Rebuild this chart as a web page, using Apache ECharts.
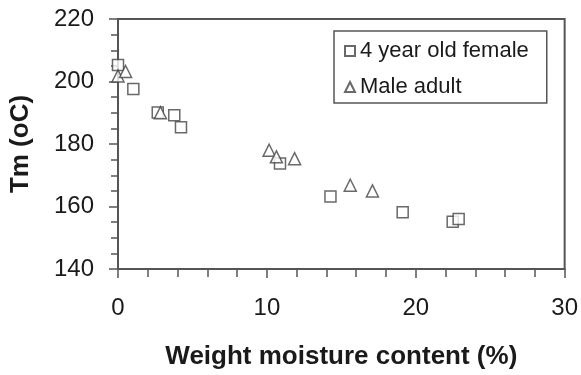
<!DOCTYPE html>
<html>
<head>
<meta charset="utf-8">
<script src="https://cdn.jsdelivr.net/npm/echarts@6/dist/echarts.min.js"></script>
<style>
  html, body { margin: 0; padding: 0; background: #fff; }
  #chart { width: 581px; height: 375px; }
</style>
</head>
<body>
<div id="chart"></div>
<script>
// data
var femaleX = [0, 1.03, 2.67, 3.78, 4.23, 10.88, 14.27, 19.12, 22.48, 22.88];
var femaleY = [205.3, 197.6, 190.1, 189.2, 185.4, 173.8, 163.2, 158.2, 155.1, 156.0];
var maleX = [0, 0.51, 2.85, 10.15, 10.64, 11.86, 15.6, 17.09];
var maleY = [201.8, 203.2, 190.0, 178.0, 175.9, 175.3, 166.8, 165.0];
var seriesNames = ['4 year old female', 'Male adult'];

var axisColor = '#555';
var textColor = '#1a1a1a';
var fontName = '"Liberation Sans", Arial, sans-serif';

function pairs(xs, ys) {
    var out = [];
    for (var i = 0; i < xs.length; i++) {
        out.push([xs[i], ys[i]]);
    }
    return out;
}

var chart = echarts.init(document.getElementById('chart'));
var option = {
    animation: false,
    textStyle: { fontFamily: fontName },
    grid: {
        left: 117, right: 14, top: 19, bottom: 105,
        show: true, borderColor: axisColor, borderWidth: 2
    },
    legend: {
        orient: 'vertical',
        left: 334, top: 31,
        padding: [8, 18, 4, 10],
        itemGap: 12,
        itemWidth: 10, itemHeight: 10,
        borderColor: axisColor, borderWidth: 1.5,
        textStyle: { fontSize: 22, color: textColor, lineHeight: 24, fontFamily: fontName },
        data: [
            { name: seriesNames[0], icon: 'rect' },
            { name: seriesNames[1], icon: 'triangle' }
        ]
    },
    xAxis: {
        type: 'value', min: 0, max: 30, interval: 10,
        name: 'Weight moisture content (%)',
        nameLocation: 'middle', nameGap: 75,
        nameTextStyle: { fontSize: 26, fontWeight: 'bold', color: textColor },
        axisLine: { show: true, lineStyle: { color: axisColor, width: 2 } },
        axisTick: { show: true, length: 9, lineStyle: { color: axisColor, width: 1.5 } },
        minorTick: { show: true, splitNumber: 5, length: 8, lineStyle: { color: axisColor, width: 1.5 } },
        axisLabel: { fontSize: 24, color: textColor, margin: 27 },
        splitLine: { show: false }
    },
    yAxis: {
        type: 'value', min: 140, max: 220, interval: 20,
        name: 'Tm (oC)',
        nameLocation: 'middle', nameGap: 84,
        nameTextStyle: { fontSize: 26, fontWeight: 'bold', color: textColor },
        axisLine: { show: true, lineStyle: { color: axisColor, width: 2 } },
        axisTick: { show: true, length: 9, lineStyle: { color: axisColor, width: 1.5 } },
        minorTick: { show: true, splitNumber: 4, length: 7, lineStyle: { color: axisColor, width: 1.5 } },
        axisLabel: { fontSize: 24, color: textColor, margin: 24 },
        splitLine: { show: false }
    },
    series: [
        {
            name: seriesNames[0],
            type: 'scatter',
            symbol: 'rect',
            symbolSize: 11,
            clip: false,
            itemStyle: { color: '#fff', borderColor: '#444', borderWidth: 1.5 },
            data: pairs(femaleX, femaleY)
        },
        {
            name: seriesNames[1],
            type: 'scatter',
            symbol: 'triangle',
            symbolSize: 12,
            clip: false,
            itemStyle: { color: '#fff', borderColor: '#444', borderWidth: 1.5 },
            data: pairs(maleX, maleY)
        }
    ]
};
chart.setOption(option);
</script>
</body>
</html>
